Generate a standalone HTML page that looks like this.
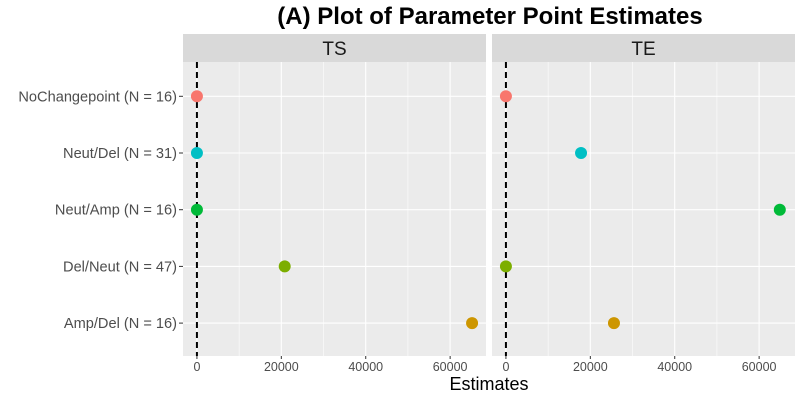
<!DOCTYPE html>
<html><head><meta charset="utf-8"><style>
body{margin:0;background:#fff;font-family:"Liberation Sans",sans-serif}
</style></head><body>
<svg id="c" width="800" height="400" xmlns="http://www.w3.org/2000/svg">
<text x="490" y="24" text-anchor="middle" font-size="24" font-weight="bold" fill="#000">(A) Plot of Parameter Point Estimates</text>
<text x="489" y="390" text-anchor="middle" font-size="18" fill="#000">Estimates</text>
</svg>
<script>
const categories=["NoChangepoint (N = 16)","Neut/Del (N = 31)","Neut/Amp (N = 16)","Del/Neut (N = 47)","Amp/Del (N = 16)"];
const colors=["#F8766D","#00BFC4","#00BA38","#7CAE00","#CD9600"];
const panels=["TS","TE"];
const tsValues=[0,0,0,20800,65200];
const teValues=[0,17800,64900,0,25600];
const ticks=[0,20000,40000,60000];
const svg=document.getElementById('c');
const NS="http://www.w3.org/2000/svg";
function mk(t,a,p){const e=document.createElementNS(NS,t);for(const k in a)e.setAttribute(k,a[k]);(p||svg).appendChild(e);return e;}
const xmin=-3300,xmax=68500,panelTop=62,panelBot=356;
const rowY=i=>96.3+i*56.7;
const panelX=[183,492],pw=303;
function xs(p,v){return panelX[p]+(v-xmin)/(xmax-xmin)*pw;}
const allVals=[tsValues,teValues];
panels.forEach((name,p)=>{
  const g=mk('g',{});
  
  
  const st=mk('rect',{x:panelX[p],y:34,width:pw,height:panelTop-34,fill:'#D9D9D9'},g);
  
  
  const lt=mk('text',{x:panelX[p]+pw/2,y:55,'text-anchor':'middle','font-size':19,fill:'#1a1a1a'},g);lt.textContent=name;
  
  
  mk('rect',{x:panelX[p],y:panelTop,width:pw,height:panelBot-panelTop,fill:'#EBEBEB'},g);
  for(let v=-10000;v<=70000;v+=10000){
    const x=xs(p,v); if(x<panelX[p]||x>panelX[p]+pw)continue;
    mk('line',{x1:x,x2:x,y1:panelTop,y2:panelBot,stroke:'#fff','stroke-width':ticks.includes(v)?1.1:0.55},g);
  }
  categories.forEach((c,i)=>mk('line',{x1:panelX[p],x2:panelX[p]+pw,y1:rowY(i),y2:rowY(i),stroke:'#fff','stroke-width':1.1},g));
  mk('line',{x1:xs(p,0),x2:xs(p,0),y1:panelTop,y2:panelBot,stroke:'#000','stroke-width':2,'stroke-dasharray':'6,4'},g);
  ticks.forEach(t=>{
    const x=xs(p,t);
    mk('line',{x1:x,x2:x,y1:panelBot,y2:panelBot+3,stroke:'#333'},g);
    const tx=mk('text',{x:x,y:panelBot+15,'text-anchor':'middle','font-size':12.5,fill:'#4d4d4d'},g);tx.textContent=t;
    
    
  });
  allVals[p].forEach((v,i)=>{
    const pt=mk('circle',{cx:xs(p,v),cy:rowY(i),r:6,fill:colors[i]},g);
    
    
  });
});
categories.forEach((c,i)=>{
  mk('line',{x1:179,x2:183,y1:rowY(i),y2:rowY(i),stroke:'#333'});
  const t=mk('text',{x:177,y:rowY(i)+5,'text-anchor':'end','font-size':14.6,fill:'#4d4d4d'});t.textContent=c;
  
  
});
</script>
</body></html>
